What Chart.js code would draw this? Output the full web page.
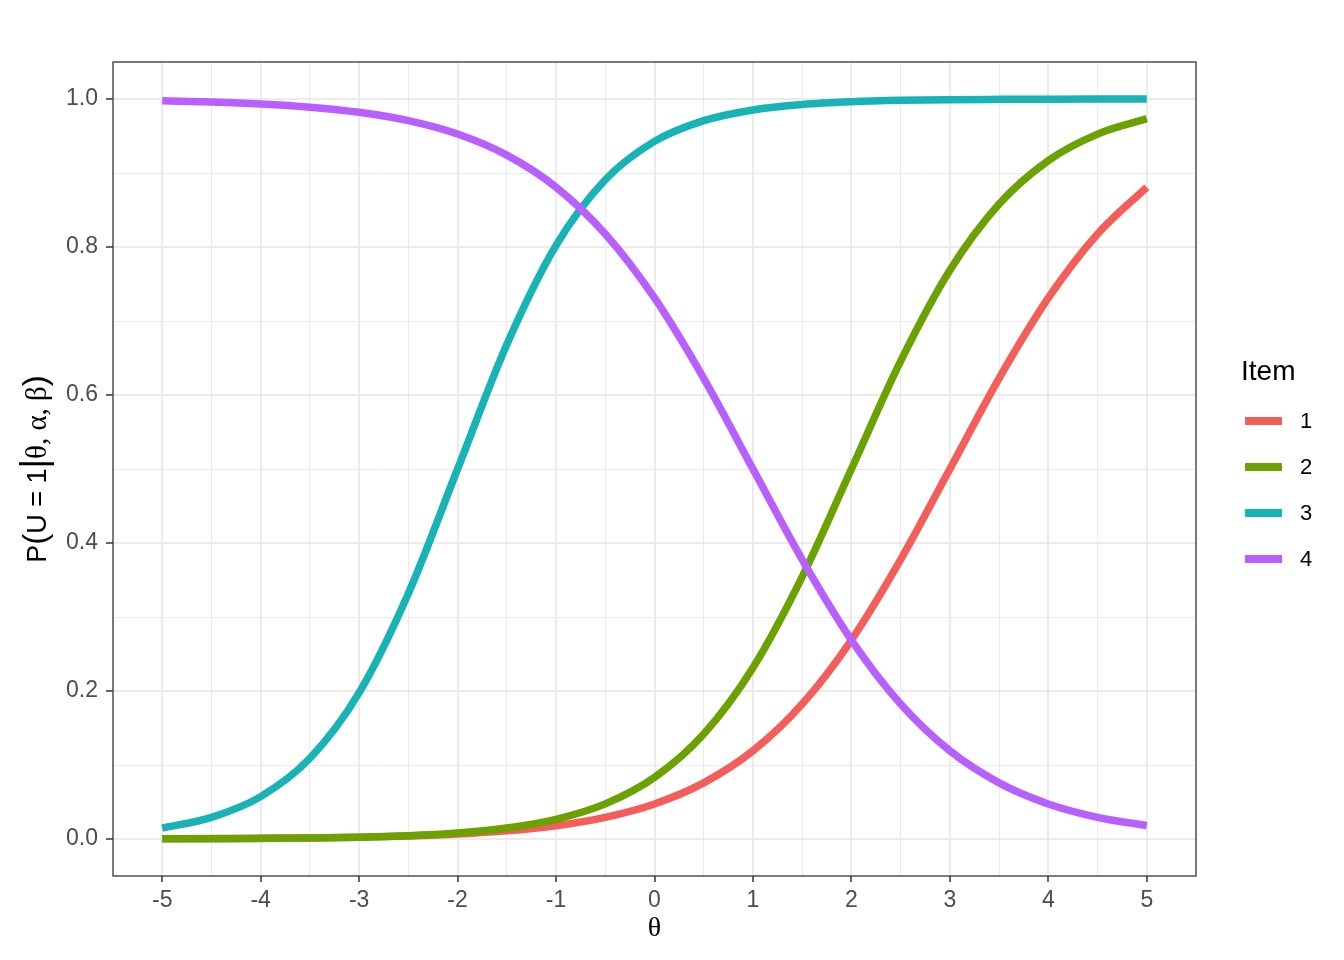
<!DOCTYPE html>
<html>
<head>
<meta charset="utf-8">
<script src="https://cdn.jsdelivr.net/npm/chart.js@4.4.1/dist/chart.umd.min.js"></script>
<style>
  html, body { margin: 0; padding: 0; background: #fff; }
  #wrap { width: 1344px; height: 960px; position: relative; }
</style>
</head>
<body>
<div id="wrap"><canvas id="icc" width="1344" height="960"></canvas></div>
<script>
// theta grid and item response probabilities
const thetas = [-5, -4.5, -4, -3.5, -3, -2.5, -2, -1.5, -1, -0.5, 0, 0.5, 1, 1.5, 2, 2.5, 3, 3.5, 4, 4.5, 5];
const itemLabels = ['1', '2', '3', '4'];
const itemColors = ['#F35E5A', '#6BA100', '#18B3B7', '#B75FFF'];

const item1 = [0.0003, 0.0006, 0.0009, 0.0015, 0.0025, 0.0041, 0.0067, 0.0110, 0.0180, 0.0293, 0.0474,
  0.0759, 0.1192, 0.1824, 0.2689, 0.3775, 0.5000, 0.6225, 0.7311, 0.8176, 0.8808];
const item2 = [0.0002, 0.0004, 0.0008, 0.0014, 0.0025, 0.0045, 0.0082, 0.0148, 0.0266, 0.0474, 0.0832,
  0.1419, 0.2315, 0.3543, 0.5000, 0.6457, 0.7685, 0.8581, 0.9168, 0.9526, 0.9734];
const item3 = [0.0148, 0.0293, 0.0573, 0.1091, 0.1978, 0.3318, 0.5000, 0.6682, 0.8022, 0.8909, 0.9427,
  0.9707, 0.9852, 0.9926, 0.9963, 0.9982, 0.9991, 0.9995, 0.9998, 0.9999, 0.9999];
const item4 = [0.9975, 0.9959, 0.9933, 0.9890, 0.9820, 0.9707, 0.9526, 0.9241, 0.8808, 0.8176, 0.7311,
  0.6225, 0.5000, 0.3775, 0.2689, 0.1824, 0.1192, 0.0759, 0.0474, 0.0293, 0.0180];
const itemSeries = [item1, item2, item3, item4];

// major ticks (labelled) and minor gridlines
const xTicks = [-5, -4, -3, -2, -1, 0, 1, 2, 3, 4, 5];
const xMinor = [-4.5, -3.5, -2.5, -1.5, -0.5, 0.5, 1.5, 2.5, 3.5, 4.5];
const yTicks = [0, 0.2, 0.4, 0.6, 0.8, 1.0];
const yMinor = [0.1, 0.3, 0.5, 0.7, 0.9];

const SANS = "'Liberation Sans', Arial, sans-serif";
const SERIF = "'Liberation Serif', 'DejaVu Serif', serif";
const GRID = '#EBEBEB';
const INK = '#333333';

const isMajor = (list, v) => list.some(t => Math.abs(t - v) < 1e-6);

const datasets = itemSeries.map((vals, i) => ({
  label: itemLabels[i],
  data: thetas.map((t, j) => ({ x: t, y: vals[j] })),
  borderColor: itemColors[i],
  backgroundColor: itemColors[i],
  borderWidth: 7.5,
  pointRadius: 0,
  fill: false,
  cubicInterpolationMode: 'monotone',
  borderCapStyle: 'butt',
  order: itemSeries.length - i,
}));

const frame = {
  id: 'frame',
  afterDatasetsDraw(chart) {
    const { ctx, chartArea: a } = chart;
    ctx.save();
    ctx.strokeStyle = INK;
    ctx.lineWidth = 1.3;
    ctx.strokeRect(a.left, a.top, a.right - a.left, a.bottom - a.top);
    ctx.restore();
  },
  afterDraw(chart) {
    const { ctx, chartArea: a } = chart;
    ctx.save();
    // x title
    ctx.fillStyle = '#000';
    ctx.font = `28px ${SERIF}`;
    ctx.textAlign = 'center';
    ctx.textBaseline = 'middle';
    ctx.fillText('θ', (a.left + a.right) / 2, 929);

    // y title, pieces in sans and serif
    const parts = [
      { t: 'P', f: `27px ${SANS}` },
      { t: '(', f: `33px ${SANS}` },
      { t: 'U = 1', f: `27px ${SANS}` },
      { t: '|', f: `37px ${SANS}` },
      { t: 'θ, α, β', f: `29px ${SERIF}` },
      { t: ')', f: `33px ${SANS}` },
    ];
    let total = 0;
    parts.forEach(p => { ctx.font = p.f; p.w = ctx.measureText(p.t).width; total += p.w; });
    ctx.translate(36, (a.top + a.bottom) / 2);
    ctx.rotate(-Math.PI / 2);
    ctx.textAlign = 'left';
    ctx.textBaseline = 'alphabetic';
    let x = -total / 2;
    parts.forEach(p => {
      ctx.font = p.f;
      ctx.fillText(p.t, x, 10);
      x += p.w;
    });
    ctx.restore();

    // legend
    ctx.save();
    ctx.fillStyle = '#000';
    ctx.font = `28px ${SANS}`;
    ctx.textAlign = 'left';
    ctx.textBaseline = 'middle';
    ctx.fillText('Item', 1241, 372);
    ctx.font = `22px ${SANS}`;
    chart.data.datasets.forEach((ds, i) => {
      const y = 421 + i * 46;
      ctx.fillStyle = ds.borderColor;
      ctx.fillRect(1245, y - 4, 37, 8);
      ctx.fillStyle = '#000';
      ctx.fillText(ds.label, 1300, y + 1);
    });
    ctx.restore();
  },
};

new Chart(document.getElementById('icc'), {
  type: 'line',
  data: { datasets },
  plugins: [frame],
  options: {
    responsive: false,
    animation: false,
    events: [],
    layout: { padding: { top: 62, right: 148, bottom: 0, left: 0 } },
    plugins: { legend: { display: false }, tooltip: { enabled: false } },
    scales: {
      x: {
        type: 'linear',
        min: -5.5,
        max: 5.5,
        afterBuildTicks(scale) {
          scale.ticks = xTicks.concat(xMinor).sort((p, q) => p - q).map(value => ({ value }));
        },
        afterFit(scale) { scale.height = 84; },
        border: { display: false },
        grid: {
          color: GRID,
          lineWidth: c => isMajor(xTicks, c.tick.value) ? 2 : 1,
          tickColor: c => isMajor(xTicks, c.tick.value) ? INK : 'transparent',
          tickWidth: 1.5,
          tickLength: 6,
        },
        ticks: {
          autoSkip: false,
          maxRotation: 0,
          padding: 5,
          color: '#4D4D4D',
          font: { family: SANS, size: 23 },
          callback: v => isMajor(xTicks, v) ? String(Math.round(v)) : '',
        },
      },
      y: {
        type: 'linear',
        min: -0.05,
        max: 1.05,
        afterBuildTicks(scale) {
          scale.ticks = yTicks.concat(yMinor).sort((p, q) => p - q).map(value => ({ value }));
        },
        afterFit(scale) { scale.width = 113; },
        border: { display: false },
        grid: {
          color: GRID,
          lineWidth: c => isMajor(yTicks, c.tick.value) ? 2 : 1,
          tickColor: c => isMajor(yTicks, c.tick.value) ? INK : 'transparent',
          tickWidth: 1.5,
          tickLength: 7,
        },
        ticks: {
          autoSkip: false,
          padding: 8,
          color: '#4D4D4D',
          font: { family: SANS, size: 23 },
          callback: v => isMajor(yTicks, v) ? v.toFixed(1) : '',
        },
      },
    },
  },
});
</script>
</body>
</html>
